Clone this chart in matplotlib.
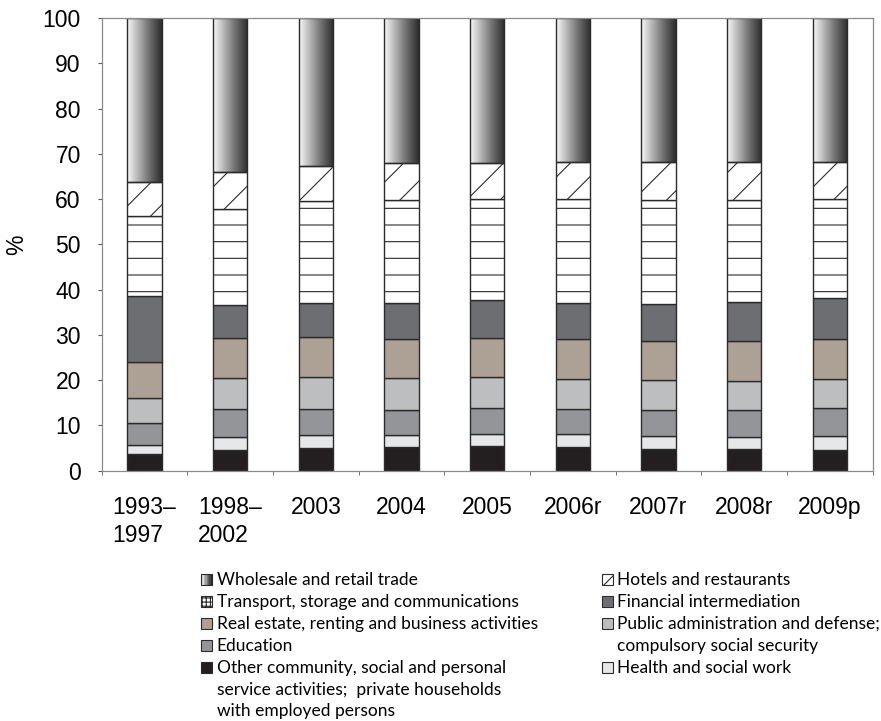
import numpy as np
import matplotlib.pyplot as plt
from matplotlib.patches import Rectangle
from matplotlib.colors import LinearSegmentedColormap

# ---------------- DATA (share of total, %) ----------------
periods = ["1993–\n1997", "1998–\n2002", "2003", "2004", "2005",
           "2006r", "2007r", "2008r", "2009p"]

other_services = [3.6, 4.6, 5.1, 5.3, 5.5, 5.2, 4.7, 4.8, 4.6]
health = [2.1, 2.9, 2.7, 2.6, 2.6, 2.8, 3.0, 2.7, 3.1]
education = [4.8, 6.1, 5.8, 5.5, 5.7, 5.6, 5.7, 5.9, 6.1]
public_admin = [5.6, 6.9, 7.0, 7.0, 6.8, 6.6, 6.6, 6.4, 6.4]
real_estate = [8.0, 8.8, 8.9, 8.8, 8.8, 8.8, 8.7, 8.9, 9.0]
financial = [14.6, 7.4, 7.5, 7.8, 8.2, 8.1, 8.1, 8.5, 8.9]
transport = [17.5, 21.1, 22.5, 22.9, 22.5, 23.0, 23.1, 22.7, 21.9]
hotels = [7.6, 8.2, 7.8, 8.0, 7.9, 8.2, 8.4, 8.4, 8.3]
wholesale = [36.2, 34.0, 32.7, 32.1, 32.0, 31.7, 31.7, 31.7, 31.7]

# stacking order, bottom to top
stack = [
    (other_services, "#231f20", None),
    (health, "#e6e7e8", None),
    (education, "#939598", None),
    (public_admin, "#bcbec0", None),
    (real_estate, "#ada195", None),
    (financial, "#6d6e71", None),
    (transport, "white", "-"),
    (hotels, "white", "/"),
    (wholesale, "gradient", None),
]

grad_cmap = LinearSegmentedColormap.from_list(
    "wh", ["#fbfbfb", "#b0b0b0", "#6a6a6a", "#2c2c2c"])

plt.rcParams["hatch.linewidth"] = 0.8
plt.rcParams["hatch.color"] = "#2b2b2b"

fig = plt.figure(figsize=(8.81, 7.21), dpi=100)
ax = fig.add_axes([101.7 / 881, 1 - 470.7 / 721, 771 / 881, 452.7 / 721])

x = np.arange(len(periods))
width = 0.4
bottom = np.zeros(len(periods))

for values, color, hatch in stack:
    values = np.array(values)
    if color == "gradient":
        for xi, b, v in zip(x, bottom, values):
            ax.imshow(np.linspace(0, 1, 256).reshape(1, -1), cmap=grad_cmap,
                      extent=(xi - width / 2, xi + width / 2, b, b + v),
                      aspect="auto", zorder=1)
        ax.bar(x, values, width, bottom=bottom, facecolor="none",
               edgecolor="#2b2b2b", linewidth=1.0, zorder=2)
    else:
        ax.bar(x, values, width, bottom=bottom, color=color, hatch=hatch,
               edgecolor="#2b2b2b", linewidth=1.0, zorder=2)
    bottom += values

ax.set_xlim(-0.5, len(periods) - 0.5)
ax.set_ylim(0, 100)

tick_font = {"family": "Liberation Sans", "size": 16.5}
ax.set_yticks(range(0, 101, 10))
ax.set_yticklabels([str(v) for v in range(0, 101, 10)], fontdict=tick_font)
ax.set_xticks(x)
ax.set_xticklabels(periods, fontdict=tick_font, multialignment="left",
                   linespacing=1.3)
ax.set_xticks(np.arange(-0.5, len(periods), 1), minor=True)

ax.tick_params(axis="x", which="major", length=0, pad=18)
ax.tick_params(axis="x", which="minor", length=3, direction="out", color="#595959")
ax.tick_params(axis="y", length=3, direction="out", pad=12, color="#595959")

for s in ax.spines.values():
    s.set_color("#8a8a8a")
    s.set_linewidth(0.9)

ax.set_ylabel("%", fontdict=tick_font)
ax.yaxis.set_label_coords(-0.0956, 0.5)

# ---------------- LEGEND (drawn by hand, two columns) ----------------
W, H = 881, 721
leg_font = {"family": "Lato", "size": 12.5}
row_h = 21.9
first_base = 585


def px(xp, yp):
    return xp / W, 1 - yp / H


def marker(x0, base, face, hatch=None):
    size = 11
    if face == "gradient":
        n = 8
        for i in range(n):
            fig.add_artist(Rectangle(px(x0 + i * size / n, base), size / n / W, size / H,
                                     transform=fig.transFigure,
                                     facecolor=grad_cmap(i / (n - 1)), edgecolor="none"))
        fig.add_artist(Rectangle(px(x0, base), size / W, size / H, transform=fig.transFigure,
                                 facecolor="none", edgecolor="#2b2b2b", linewidth=0.8))
    else:
        fig.add_artist(Rectangle(px(x0, base), size / W, size / H, transform=fig.transFigure,
                                 facecolor=face, hatch=hatch, edgecolor="#2b2b2b",
                                 linewidth=0.8))


left_items = [
    (["Wholesale and retail trade"], "gradient", None),
    (["Transport, storage and communications"], "white", "++++"),
    (["Real estate, renting and business activities"], "#ada195", None),
    (["Education"], "#939598", None),
    (["Other community, social and personal",
      "service activities;  private households",
      "with employed persons"], "#231f20", None),
]
right_items = [
    (["Hotels and restaurants"], "white", "///"),
    (["Financial intermediation"], "#6d6e71", None),
    (["Public administration and defense;",
      "compulsory social security"], "#bcbec0", None),
    (["Health and social work"], "#e6e7e8", None),
]

for items, mx, tx in [(left_items, 201, 216.7), (right_items, 601.7, 616.7)]:
    row = 0
    for lines, face, hatch in items:
        marker(mx, first_base + row * row_h, face, hatch)
        for line in lines:
            fig.text(*px(tx, first_base + row * row_h), line, fontdict=leg_font,
                     ha="left", va="baseline")
            row += 1

fig.savefig("out.png", dpi=100)
